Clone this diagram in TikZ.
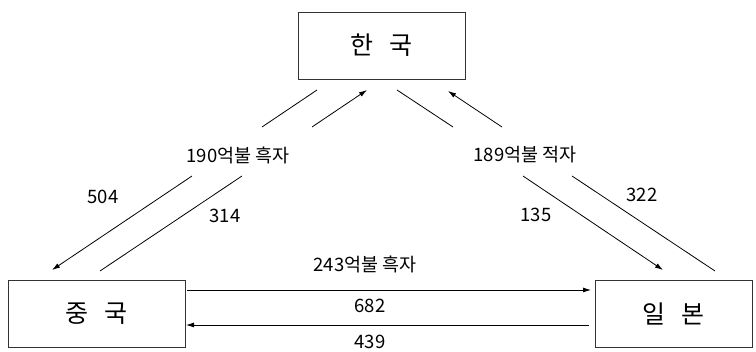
\documentclass[tikz,border=0pt]{standalone}
\usepackage{fontspec}
\setmainfont{Noto Sans CJK KR}
\usetikzlibrary{arrows.meta}
\begin{document}
\begin{tikzpicture}[x=1pt,y=-1pt,
  country/.style={draw=black!80,line width=0.8pt,inner sep=0pt,font=\fontsize{25}{28}\selectfont},
  lbl/.style={inner sep=0pt,font=\fontsize{18.5}{22}\selectfont},
  flow/.style={line width=0.8pt},
  tip/.style={-{Latex[length=8pt,width=5pt]}}]
\useasboundingbox (0,0) rectangle (756,352);
\node[country,minimum width=167pt,minimum height=67pt] (kr) at (381.5,45.5) {\raisebox{-2pt}{한\hspace{16pt}국}};
\node[country,minimum width=177pt,minimum height=67pt] (cn) at (96.5,313.5) {\raisebox{-2pt}{중\hspace{16pt}국}};
\node[country,minimum width=157pt,minimum height=67pt] (jp) at (673.5,313.5) {\raisebox{-2pt}{일\hspace{16pt}본}};
% labels
\node[lbl] (l190) at (238,155) {190억불 흑자};
\node[lbl] (l504) at (103,197) {504};
\node[lbl] (l314) at (225,216) {314};
\node[lbl] (l189) at (525,155) {189억불 적자};
\node[lbl] (l322) at (642,195) {322};
\node[lbl] (l135) at (536,215) {135};
\node[lbl] (l243) at (365,264) {243억불 흑자};
\node[lbl] (l682) at (370,306) {682};
\node[lbl] (l439) at (370,342) {439};
% coordinates
\coordinate (a1) at (317,90);   \coordinate (a2) at (262,127);
\coordinate (a3) at (192,176);  \coordinate (a4) at (52,270);
\coordinate (b1) at (312,127);  \coordinate (b2) at (367,90);
\coordinate (b3) at (242,176);  \coordinate (b4) at (100,271);
\coordinate (c1) at (397,90);   \coordinate (c2) at (453,127);
\coordinate (c3) at (523,176);  \coordinate (c4) at (663,270);
\coordinate (d1) at (502,127);  \coordinate (d2) at (448,91);
\coordinate (d3) at (572,176);  \coordinate (d4) at (715,271);
\coordinate (e1) at (187,290);  \coordinate (e2) at (591,290);
\coordinate (f1) at (589,325);  \coordinate (f2) at (186,325);
% Korea -> China (504)
\draw[flow] (a1) -- (a2);
\draw[flow,tip] (a3) -- (a4);
% China -> Korea (314)
\draw[flow] (b4) -- (b3);
\draw[flow,tip] (b1) -- (b2);
% Korea -> Japan (135)
\draw[flow] (c1) -- (c2);
\draw[flow,tip] (c3) -- (c4);
% Japan -> Korea (322)
\draw[flow] (d4) -- (d3);
\draw[flow,tip] (d1) -- (d2);
% China <-> Japan
\draw[flow,tip] (e1) -- (e2);
\draw[flow,tip] (f1) -- (f2);
\end{tikzpicture}
\end{document}
